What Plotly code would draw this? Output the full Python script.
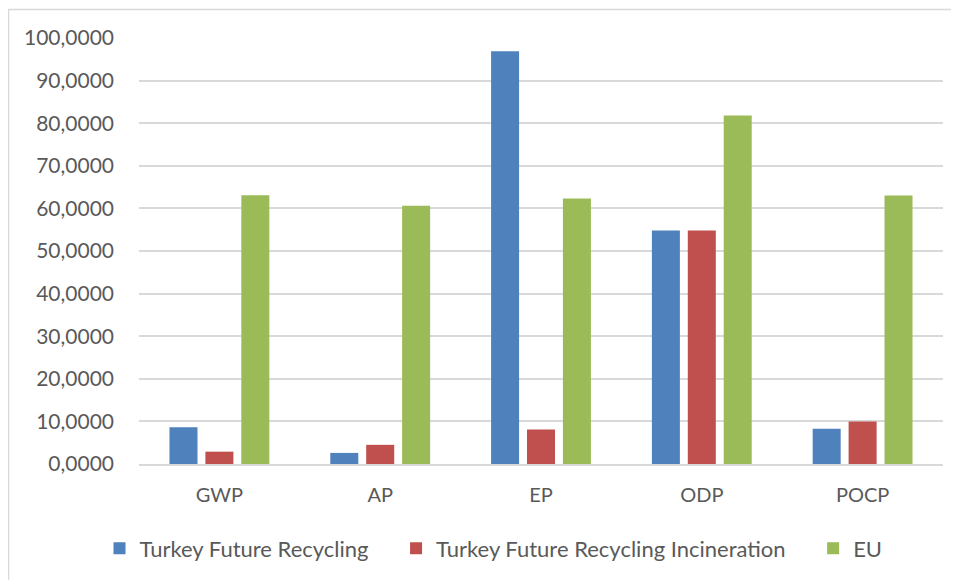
import plotly.graph_objects as go

categories = ["GWP", "AP", "EP", "ODP", "POCP"]
turkey_recycling = [8.6, 2.6, 96.9, 54.8, 8.3]
turkey_incineration = [2.9, 4.5, 8.1, 54.8, 10.0]
eu = [63.1, 60.6, 62.3, 81.8, 63.0]
y_ticks = [0, 10, 20, 30, 40, 50, 60, 70, 80, 90, 100]
series_names = ["Turkey Future Recycling", "Turkey Future Recycling Incineration", "EU"]

colors = ["#4F81BD", "#C0504D", "#9BBB59"]
pad = "\u00a0" * 4

fig = go.Figure()
for i, (name, vals) in enumerate(zip(series_names, [turkey_recycling, turkey_incineration, eu])):
    label = name + (pad if i < len(series_names) - 1 else "")
    fig.add_trace(go.Bar(x=categories, y=vals, name=label,
                         marker=dict(color=colors[i], line=dict(width=0))))

OFF = 8  # page body margin
W, H = 959 - OFF, 580 - OFF
# screen coordinates of plot area
sx0, sx1, sy_top, sy_zero = 139, 943, 38, 464.5
L = sx0 - OFF
R = W - (sx1 - OFF)
T = sy_top - OFF
B = H - (sy_zero - OFF)
pw = W - L - R
ph = H - T - B

def px_x(sp):
    return (sp - OFF - L) / pw

def px_y(sp):
    return (H - B - (sp - OFF)) / ph

font = "Lato, 'Open Sans', sans-serif"
fig.update_layout(
    width=W, height=H,
    margin=dict(l=L, r=R, t=T, b=B, autoexpand=False),
    paper_bgcolor="white", plot_bgcolor="white",
    barmode="group", bargap=0.33, bargroupgap=0.22,
    separators=", ",
    font=dict(family=font, size=20, color="#595959"),
    xaxis=dict(showgrid=False, showline=True, linecolor="#d9d9d9", linewidth=1.5,
               ticks="", ticklabelstandoff=12, tickfont=dict(size=20, color="#595959")),
    yaxis=dict(range=[0, 100], tickvals=y_ticks, tickformat=".4f", showgrid=True,
               gridcolor="#d9d9d9", gridwidth=1.5, zeroline=False, showline=False,
               ticks="", ticklabelstandoff=24, tickfont=dict(size=21, color="#595959")),
    legend=dict(orientation="h", x=px_x(493.5), xanchor="center", y=px_y(549), yanchor="middle",
                font=dict(size=22, color="#595959"), bgcolor="rgba(0,0,0,0)"),
    shapes=[dict(type="rect", xref="paper", yref="paper",
                 x0=px_x(8.5), x1=px_x(1000), y0=px_y(620), y1=px_y(9.5),
                 line=dict(color="#d9d9d9", width=1.5), fillcolor="rgba(0,0,0,0)", layer="below")],
)

fig.write_html("out.html")
